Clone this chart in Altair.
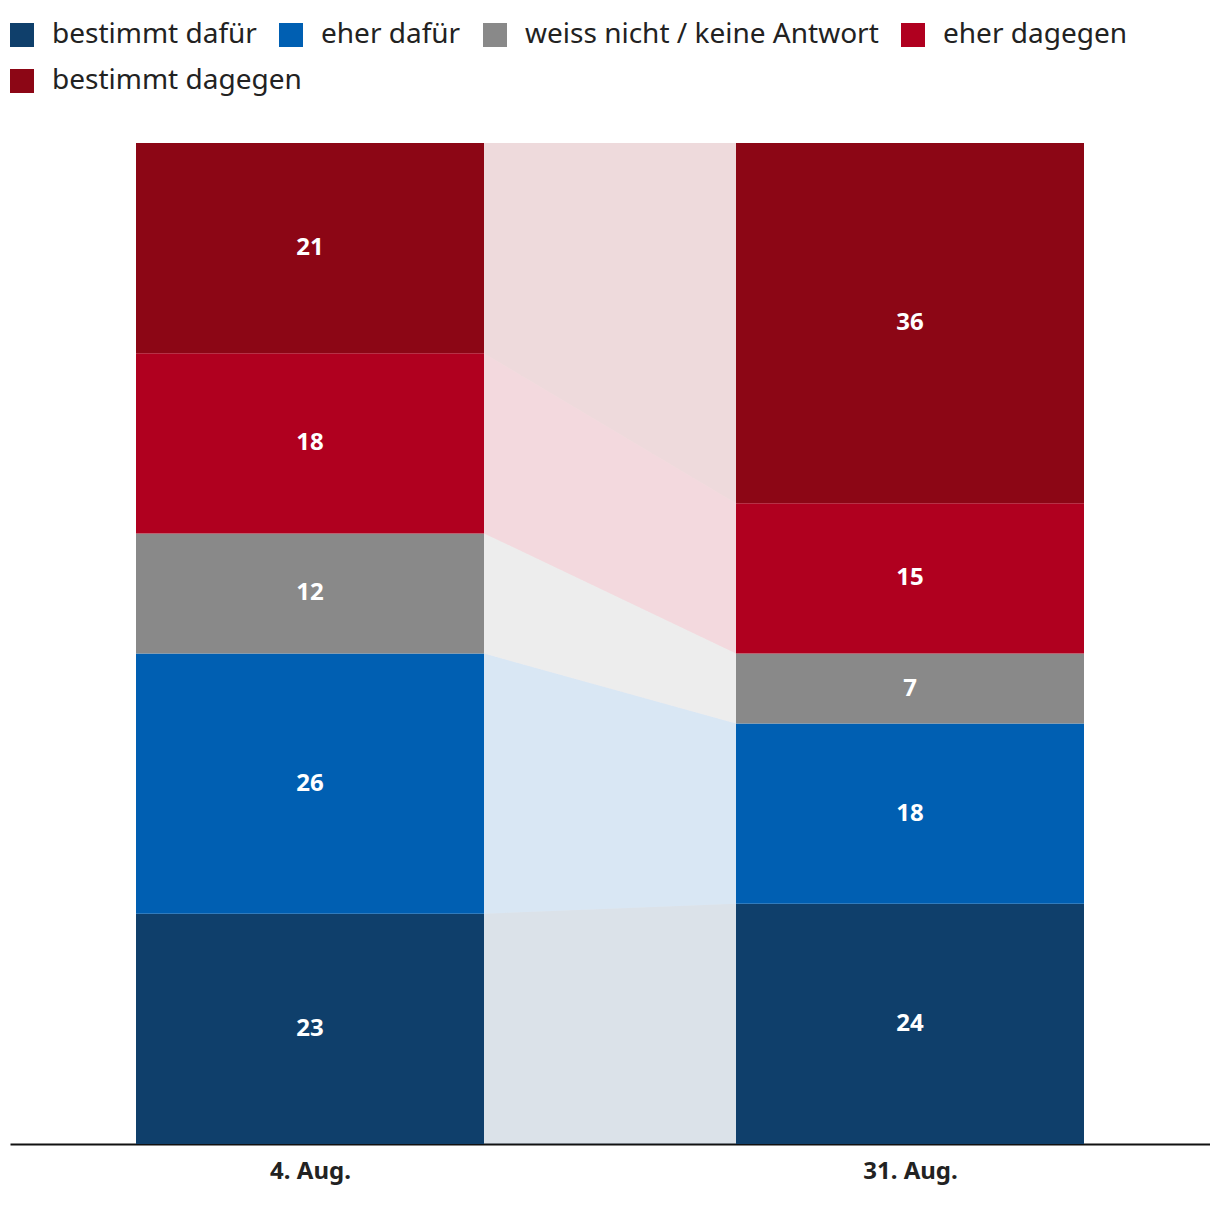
import json
import altair as alt
import pandas as pd

dates = ["4. Aug.", "31. Aug."]
categories = ["bestimmt dafür", "eher dafür", "weiss nicht / keine Antwort", "eher dagegen", "bestimmt dagegen"]
colors = ["#0f3f6b", "#005fb2", "#898989", "#b0001f", "#8c0615"]
values_aug4 = [23, 26, 12, 18, 21]
values_aug31 = [24, 18, 7, 15, 36]

rows = []
for i, (d, vals) in enumerate(zip(dates, [values_aug4, values_aug31])):
    cum = 0
    for k, (c, v) in enumerate(zip(categories, vals)):
        rows.append(dict(date=d, idx=i, cat=c, order=k, value=v, y0=cum, y1=cum + v))
        cum += v
df = pd.DataFrame(rows)

HALF = 0.29
FONT = "Noto Sans"

xscale = alt.Scale(domain=[-0.5, 1.5], nice=False, zero=False)
yscale = alt.Scale(domain=[0, 100], nice=False, zero=True)
label_expr = "datum.value == 0 ? %s : %s" % (json.dumps(dates[0]), json.dumps(dates[1]))

legend_common = dict(title=None, orient="none", direction="horizontal",
                     symbolType="square", symbolSize=576, symbolStrokeWidth=0,
                     labelFontSize=28, labelFont=FONT, labelColor="#222222",
                     columnPadding=20, labelOffset=16, labelLimit=0)
LEG_X, LEG_Y = -2, -122

base = alt.Chart(df)

bars = base.transform_calculate(
    xl=f"datum.idx - {HALF}", xr=f"datum.idx + {HALF}"
).mark_rect().encode(
    x=alt.X("xl:Q", scale=xscale, title=None,
            axis=alt.Axis(values=[0, 1], labelExpr=label_expr, ticks=False, grid=False,
                          domainColor="#111111", domainWidth=2,
                          labelFontSize=24, labelFontWeight="bold", labelColor="#222222",
                          labelFont=FONT, labelPadding=15)),
    x2="xr:Q",
    y=alt.Y("y0:Q", scale=yscale, axis=None),
    y2="y1:Q",
    color=alt.Color("cat:N", scale=alt.Scale(domain=categories, range=colors),
                    legend=alt.Legend(values=categories[:4], legendX=LEG_X, legendY=LEG_Y,
                                      **legend_common)),
)

areas = base.transform_calculate(
    xe=f"datum.idx == 0 ? datum.idx + {HALF} : datum.idx - {HALF}",
    cat2="datum.cat",
).mark_area(fillOpacity=0.15).encode(
    x=alt.X("xe:Q"),
    y=alt.Y("y0:Q"),
    y2="y1:Q",
    fill=alt.Fill("cat2:N", scale=alt.Scale(domain=categories[::-1], range=colors[::-1]),
                  legend=alt.Legend(values=categories[4:], legendX=LEG_X, legendY=LEG_Y + 46,
                                    **legend_common)),
)

texts = base.transform_calculate(
    ym="(datum.y0 + datum.y1) / 2"
).mark_text(color="white", fontSize=24, fontWeight="bold", font=FONT).encode(
    x=alt.X("idx:Q"),
    y=alt.Y("ym:Q"),
    text="value:Q",
)

chart = alt.layer(bars, areas, texts).properties(
    width=1200, height=1001,
    padding={"left": 0, "top": 13, "right": 0, "bottom": 5},
).configure_view(stroke=None)

chart.save("out.html", embed_options={"renderer": "svg", "actions": False})
